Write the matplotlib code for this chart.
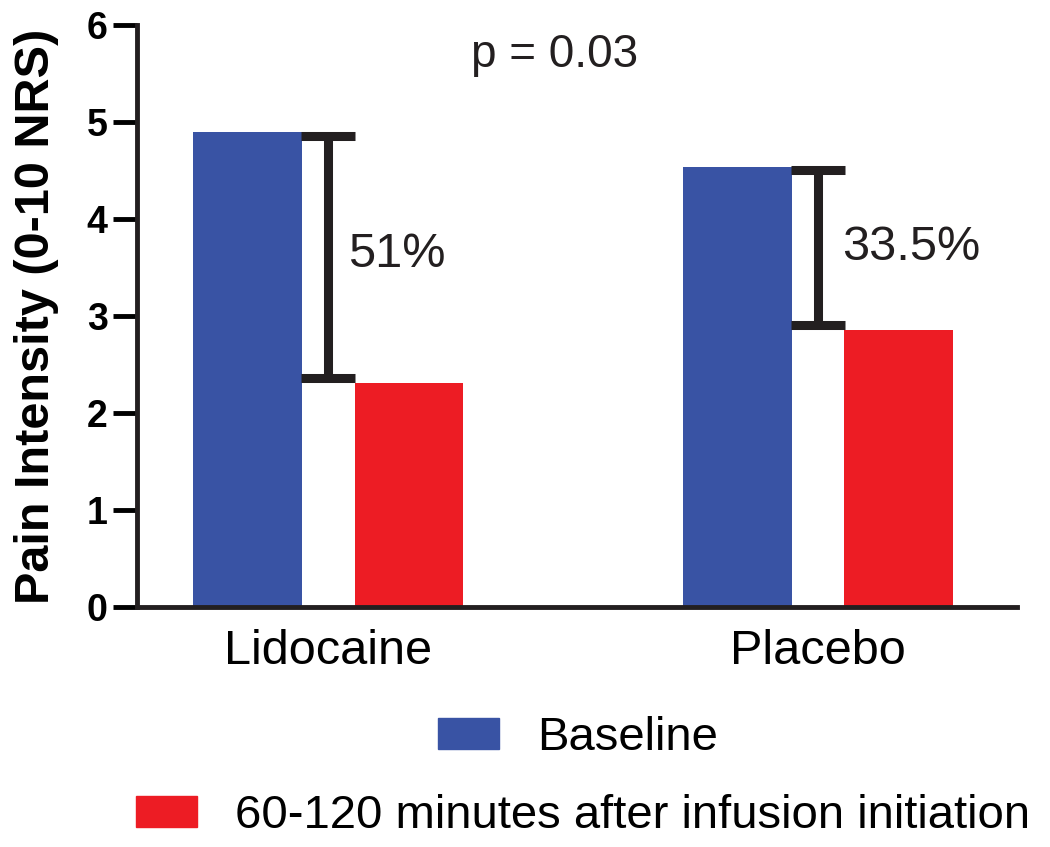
import numpy as np
import matplotlib
matplotlib.use("Agg")
import matplotlib.pyplot as plt
from matplotlib.patches import Patch

plt.rcParams['font.family'] = ['Liberation Sans', 'DejaVu Sans']

# data
groups = ['Lidocaine', 'Placebo']
baseline = [4.9, 4.54]
after = [2.31, 2.86]
bracket_top = [4.86, 4.51]
bracket_bottom = [2.36, 2.91]
pct_labels = ['51%', '33.5%']
p_text = 'p = 0.03'
legend_labels = ['Baseline', '60-120 minutes after infusion initiation']

blue = '#3953A4'
red = '#ED1C24'
ink = '#231f20'

fig = plt.figure(figsize=(10.5, 8.47), dpi=100)
ax = fig.add_axes([0.1305, 0.2834, 0.838, 0.6871])

x = np.arange(len(groups))
w = 0.222
off = 0.165
ax.bar(x - off, baseline, w, color=blue, linewidth=0)
ax.bar(x + off, after, w, color=red, linewidth=0)

# brackets showing the drop
cap = 0.055
for i in range(len(groups)):
    ax.plot([x[i], x[i]], [bracket_top[i], bracket_bottom[i]], color=ink, lw=6.5, solid_capstyle='butt')
    for yy in (bracket_top[i], bracket_bottom[i]):
        ax.plot([x[i] - cap, x[i] + cap], [yy, yy], color=ink, lw=6.5, solid_capstyle='butt')

ax.text(x[0] + 0.041, 3.63, pct_labels[0], fontsize=35, va='center', ha='left', color=ink)
ax.text(x[1] + 0.049, 3.71, pct_labels[1], fontsize=35, va='center', ha='left', color=ink)
ax.text(0.463, 5.69, p_text, fontsize=33, va='center', ha='center', color=ink)

ax.set_xlim(-0.39, 1.406)
ax.set_ylim(0, 6)
ax.set_yticks(range(0, 7))
ax.set_yticklabels([str(v) for v in range(0, 7)], fontsize=27, fontweight='bold')
ax.set_xticks(x)
ax.set_xticklabels(groups, fontsize=35)
ax.tick_params(axis='x', length=0, pad=16)
ax.tick_params(axis='y', length=17, width=3.5, pad=4)
ax.set_ylabel('Pain Intensity (0-10 NRS)', fontsize=35, fontweight='bold', labelpad=20)

for s in ['top', 'right']:
    ax.spines[s].set_visible(False)
for s in ['left', 'bottom']:
    ax.spines[s].set_linewidth(3.5)
    ax.spines[s].set_color(ink)

fig.legend(handles=[Patch(color=blue)], labels=[legend_labels[0]], loc='center',
           bbox_to_anchor=(578 / 1050, 1 - 738 / 847), frameon=False, fontsize=34,
           handlelength=1.3, handleheight=0.65, handletextpad=0.8)
fig.legend(handles=[Patch(color=red)], labels=[legend_labels[1]], loc='center',
           bbox_to_anchor=(583 / 1050, 1 - 816 / 847), frameon=False, fontsize=34,
           handlelength=1.3, handleheight=0.65, handletextpad=0.8)

fig.savefig('out.png', dpi=100)
